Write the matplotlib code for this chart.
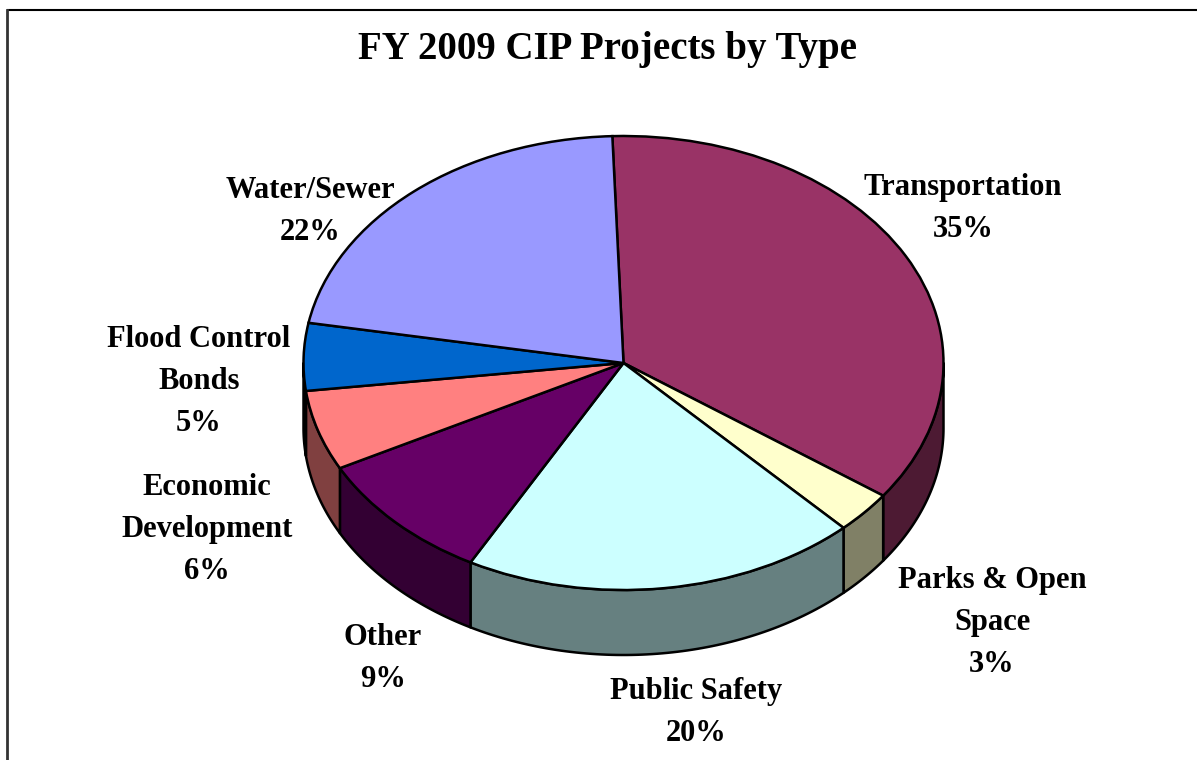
import numpy as np
import matplotlib
matplotlib.use("Agg")
import matplotlib.pyplot as plt
from matplotlib.patches import Polygon

TITLE = "FY 2009 CIP Projects by Type"
categories = ["Transportation", "Parks & Open\nSpace", "Public Safety", "Other",
              "Economic\nDevelopment", "Flood Control\nBonds", "Water/Sewer"]
shares = [35.49, 3.0, 20.0, 9.4, 5.7, 4.8, 21.61]
percent_labels = ["35%", "3%", "20%", "9%", "6%", "5%", "22%"]
top_colors = ["#993366", "#FFFFCC", "#CCFFFF", "#660066", "#FF8080", "#0066CC", "#9999FF"]
side_colors = ["#4D1A33", "#808066", "#668080", "#330033", "#804040", "#003366", "#4D4D80"]

W, H = 1197, 760
CX, CY, RX, RY, DEPTH = 623.5, 363.0, 320.0, 227.0, 65.0
START = 92.0
label_px = [(963, 208.5), (992, 622.5), (696, 712.5), (383, 658.5), (207, 529.5), (199, 381.5), (310, 211.5)]

plt.rcParams["font.family"] = ["Liberation Serif", "DejaVu Serif"]
fig = plt.figure(figsize=(W / 100, H / 100), dpi=100, facecolor="white")
ax = fig.add_axes([0, 0, 1, 1])

wedges, _ = ax.pie(shares, colors=top_colors, startangle=START, counterclock=False,
                   wedgeprops=dict(edgecolor="black", linewidth=1.8, zorder=3))
ax.set_aspect("auto")
ax.set_xlim(-CX / RX, (W - CX) / RX)
ax.set_ylim((CY - H) / RY, CY / RY)
for w in wedges:
    w.set_zorder(3)

# side wall of the disc, derived from the shares
edges = START - np.cumsum([0] + shares) * 3.6
d = DEPTH / RY
for i, col in enumerate(side_colors):
    a0, a1 = edges[i], edges[i + 1]
    lo, hi = max(a1, -180), min(a0, 0)
    if hi <= lo:
        continue
    t = np.radians(np.linspace(hi, lo, 80))
    x, y = np.cos(t), np.sin(t)
    pts = np.r_[np.c_[x, y], np.c_[x, y - d][::-1]]
    ax.add_patch(Polygon(pts, closed=True, facecolor=col, edgecolor="black",
                         linewidth=1.8, zorder=2, joinstyle="round"))

# chart frame: top and left rules
fig.add_artist(plt.Line2D([7.5 / W, 1], [1 - 9.5 / H] * 2, color="black", lw=1.5))
fig.add_artist(plt.Line2D([7 / W] * 2, [0, 1 - 9.5 / H], color="#333333", lw=2.0))

fig.text(608 / W, 1 - 49 / H, TITLE, ha="center", va="center", fontsize=28, fontweight="bold")
for name, pct, (px, py) in zip(categories, percent_labels, label_px):
    fig.text(px / W, 1 - py / H, name + "\n" + pct, ha="center", va="center", fontsize=22,
             fontweight="bold", linespacing=1.58)

fig.savefig("out.png", dpi=100)
